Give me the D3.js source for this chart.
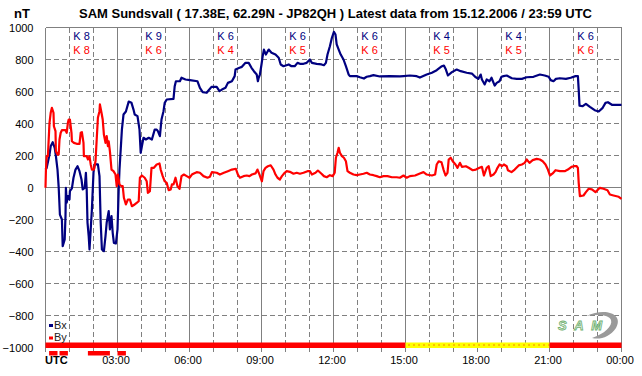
<!DOCTYPE html>
<meta charset="utf-8">
<script src="https://d3js.org/d3.v7.min.js"></script>
<style type="text/css">
body { margin: 0; background: #fff; }
svg { display: block; font-family: Arial, "Liberation Sans", sans-serif; }
.grid line { stroke: #808080; stroke-width: 1; shape-rendering: crispEdges; }
.grid .dash { stroke-dasharray: 5,3; }
.axis text { font-size: 11px; fill: #000; }
.axis path, .axis line { display: none; }
.kx { fill: #000080; font-size: 11px; }
.ky { fill: #ff0000; font-size: 11px; }
.lbl { font-size: 11px; fill: #222; }
</style>
<body>
<div id="chart"></div>
<script>

// Bx [minute of day, nT]
var bx = [[0,112],[3,123],[10,206],[13,258],[18,283],[23,248],[26,196],[30,112],[33,0],[36,-169],[41,-200],[43,-367],[48,-325],[50,-179],[51,-2],[53,-94],[56,-54],[60,-75],[61,-23],[66,-6],[70,61],[75,112],[80,133],[85,102],[90,50],[93,-12],[98,-2],[101,92],[103,-12],[105,-219],[108,-304],[110,-387],[113,-262],[116,-137],[120,94],[123,144],[131,144],[135,71],[138,-219],[141,-387],[146,-398],[150,-304],[153,-219],[158,-148],[161,-262],[165,-179],[168,-283],[171,-346],[176,-350],[180,-262],[183,-12],[185,112],[188,237],[191,362],[195,456],[201,475],[208,537],[215,529],[220,487],[223,456],[230,446],[235,362],[238,217],[241,258],[245,311],[251,300],[258,311],[266,300],[273,362],[278,362],[281,352],[286,321],[290,425],[295,477],[298,529],[303,550],[320,554],[323,633],[326,664],[336,664],[340,686],[350,675],[361,671],[380,664],[386,623],[393,596],[403,592],[408,608],[415,629],[428,629],[435,602],[441,612],[450,623],[456,654],[466,664],[473,696],[475,737],[485,748],[491,754],[500,779],[508,779],[515,748],[521,727],[528,706],[531,664],[533,686],[536,706],[540,769],[543,821],[546,862],[551,831],[558,862],[565,842],[575,831],[583,811],[588,769],[595,758],[608,769],[615,758],[623,758],[630,779],[636,773],[645,773],[653,779],[661,800],[666,779],[678,773],[690,769],[696,764],[701,779],[705,831],[711,883],[716,936],[721,973],[725,956],[728,894],[733,862],[738,831],[745,800],[751,758],[758,706],[761,696],[778,696],[786,689],[796,681],[803,692],[811,696],[820,702],[836,694],[861,696],[886,694],[895,696],[911,700],[928,696],[936,687],[953,706],[966,717],[978,733],[991,758],[996,762],[1001,737],[1006,700],[1016,721],[1028,737],[1038,727],[1053,717],[1066,712],[1074,692],[1082,679],[1088,706],[1091,675],[1098,644],[1103,675],[1110,664],[1115,686],[1123,637],[1128,654],[1135,664],[1140,692],[1145,696],[1153,700],[1166,683],[1178,679],[1191,679],[1203,689],[1220,692],[1236,706],[1248,700],[1258,692],[1263,671],[1270,664],[1276,679],[1286,683],[1301,679],[1313,686],[1325,696],[1331,696],[1333,612],[1335,512],[1343,508],[1351,523],[1361,504],[1373,483],[1383,475],[1393,498],[1400,529],[1406,533],[1416,517],[1440,517]];

// By [minute of day, nT]
var by = [[0,-2],[1,102],[3,196],[6,196],[10,404],[13,467],[16,498],[20,467],[21,383],[25,352],[26,227],[30,206],[33,206],[35,300],[38,342],[41,358],[50,358],[53,342],[56,404],[58,425],[61,425],[65,342],[66,289],[71,279],[78,273],[85,273],[88,342],[91,346],[95,279],[96,196],[103,196],[106,175],[110,196],[113,144],[116,112],[121,112],[125,164],[128,300],[131,436],[135,477],[136,519],[140,467],[143,425],[146,331],[150,279],[153,321],[156,258],[158,289],[161,227],[165,112],[170,102],[175,81],[178,8],[181,81],[185,19],[190,8],[193,8],[196,-64],[201,-106],[206,-75],[211,-75],[216,-117],[223,-106],[228,-96],[233,-86],[236,61],[241,75],[248,61],[253,39],[256,-33],[261,-23],[265,123],[271,123],[278,144],[285,150],[288,112],[293,71],[298,39],[303,29],[308,-17],[313,-12],[316,19],[320,19],[325,61],[330,8],[335,-8],[340,71],[346,81],[353,71],[360,61],[366,81],[371,88],[378,96],[386,92],[395,71],[405,61],[411,67],[416,96],[428,92],[436,81],[446,92],[456,102],[466,112],[476,117],[481,81],[486,61],[495,71],[503,75],[510,71],[516,81],[525,88],[530,112],[535,81],[541,39],[545,102],[550,123],[556,133],[563,139],[570,112],[575,81],[580,61],[586,50],[591,71],[598,92],[603,102],[611,98],[620,86],[628,92],[636,86],[645,92],[655,102],[661,102],[666,81],[675,92],[681,106],[690,86],[696,71],[703,64],[711,77],[718,71],[723,92],[726,186],[730,217],[733,248],[736,217],[741,196],[746,186],[751,164],[755,102],[761,92],[770,81],[778,77],[786,81],[795,86],[803,92],[811,81],[820,77],[828,71],[836,64],[845,71],[855,71],[866,64],[878,64],[886,61],[895,75],[903,61],[911,71],[924,75],[936,88],[945,96],[953,81],[966,75],[974,81],[978,144],[983,164],[990,158],[995,112],[1000,75],[1005,92],[1008,175],[1013,186],[1018,164],[1025,144],[1030,123],[1036,154],[1041,129],[1051,133],[1058,123],[1068,108],[1076,112],[1085,123],[1091,129],[1096,75],[1103,123],[1108,133],[1113,71],[1120,81],[1125,96],[1130,123],[1135,144],[1141,133],[1146,144],[1153,133],[1156,108],[1165,96],[1173,112],[1183,138],[1191,144],[1198,154],[1203,175],[1210,154],[1218,171],[1228,179],[1236,175],[1243,164],[1250,144],[1256,112],[1261,75],[1268,88],[1275,108],[1286,102],[1298,102],[1306,112],[1315,129],[1321,133],[1328,133],[1331,123],[1333,29],[1336,-54],[1345,-50],[1351,-29],[1358,-8],[1366,-12],[1375,-29],[1386,-2],[1395,-8],[1405,-17],[1411,-44],[1420,-50],[1433,-58],[1440,-71]];

// K indices per 3-hour block
var kBx = [8, 9, 6, 6, 6, 4, 4, 6];
var kBy = [8, 6, 4, 5, 6, 5, 5, 6];

var hourLabels = ["03:00","06:00","09:00","12:00","15:00","18:00","21:00","00:00"];
var yTicks = [-1000,-800,-600,-400,-200,0,200,400,600,800,1000];

// status strip: [from, to, state]  (minutes)
var statusSpans = [[0,900,"red"],[900,1260,"yellow"],[1260,1440,"red"]];
// alarm marks below the strip (minutes)
var alarmSpans = [[9,30],[35,56],[106,161],[180,201]];

var width = 642;
var height = 376;

var svg = d3.select("#chart")
	.append("svg")
	.attr("width", width)
	.attr("height", height);

var x = d3.scaleLinear()
	.domain([0, 1440])
	.range([45.5, 621.5]);

var y = d3.scaleLinear()
	.domain([-1000, 1000])
	.range([347.5, 27.5]);

// grid ---------------------------------------------------------------
var grid = svg.append("g").attr("class", "grid");

grid.selectAll("line.h")
	.data(yTicks)
	.enter().append("line")
	.attr("class", function(d) { return (d == 0 || d == 1000) ? "h" : "h dash"; })
	.attr("x1", x(0)).attr("x2", x(1440))
	.attr("y1", function(d) { return y(d); })
	.attr("y2", function(d) { return y(d); });

grid.selectAll("line.v")
	.data(d3.range(0, 25))
	.enter().append("line")
	.attr("class", function(d) { return d % 3 == 0 ? "v" : "v dash"; })
	.attr("x1", function(d) { return x(d * 60); })
	.attr("x2", function(d) { return x(d * 60); })
	.attr("y1", y(1000))
	.attr("y2", 352);

// axes -------------------------------------------------------------
svg.append("g")
	.attr("class", "axis")
	.attr("transform", "translate(" + x(0) + ",0)")
	.call(d3.axisLeft(y).tickValues(yTicks).tickSize(0).tickPadding(12).tickFormat(d3.format("d")));

svg.append("g")
	.attr("class", "axis")
	.attr("transform", "translate(0,348)")
	.call(d3.axisBottom(x)
		.tickValues(d3.range(180, 1441, 180))
		.tickSize(0).tickPadding(8)
		.tickFormat(function(d, i) { return hourLabels[i]; }))
	.selectAll("text").attr("dx", "-2");

svg.append("text")
	.attr("x", 45).attr("y", 364)
	.style("font-size", "11px").style("font-weight", "bold")
	.text("UTC");

svg.append("text")
	.attr("x", 14).attr("y", 18)
	.style("font-size", "13px").style("font-weight", "bold")
	.text("nT");

svg.append("text")
	.attr("x", 79).attr("y", 18)
	.style("font-size", "13px").style("font-weight", "bold")
	.text("SAM Sundsvall ( 17.38E, 62.29N - JP82QH ) Latest data from 15.12.2006 / 23:59 UTC");

// K indices ----------------------------------------------------------
svg.selectAll("text.kx")
	.data(kBx)
	.enter().append("text")
	.attr("class", "kx")
	.attr("text-anchor", "middle")
	.attr("x", function(d, i) { return x(i * 180 + 90); })
	.attr("y", 39.5)
	.text(function(d) { return "K " + d; });

svg.selectAll("text.ky")
	.data(kBy)
	.enter().append("text")
	.attr("class", "ky")
	.attr("text-anchor", "middle")
	.attr("x", function(d, i) { return x(i * 180 + 90); })
	.attr("y", 53.5)
	.text(function(d) { return "K " + d; });

// series ---------------------------------------------------------------
var line = d3.line()
	.x(function(d) { return x(d[0]); })
	.y(function(d) { return y(d[1]); });

svg.append("path")
	.attr("d", line(bx))
	.style("fill", "none")
	.style("stroke", "#000080")
	.style("stroke-width", 2.2)
	.style("stroke-linejoin", "round");

svg.append("path")
	.attr("d", line(by))
	.style("fill", "none")
	.style("stroke", "#ff0000")
	.style("stroke-width", 2.2)
	.style("stroke-linejoin", "round");

// status strip ---------------------------------------------------------
svg.selectAll("rect.status")
	.data(statusSpans)
	.enter().append("rect")
	.attr("class", "status")
	.attr("x", function(d) { return x(d[0]); })
	.attr("width", function(d) { return x(d[1]) - x(d[0]); })
	.attr("y", 342.5).attr("height", 5.5)
	.style("fill", function(d) { return d[2] == "red" ? "#ff0000" : "#ffff00"; });

svg.selectAll("line.dots")
	.data(statusSpans.filter(function(d) { return d[2] == "yellow"; }))
	.enter().append("line")
	.attr("class", "dots")
	.attr("x1", function(d) { return x(d[0]) + 3; })
	.attr("x2", function(d) { return x(d[1]); })
	.attr("y1", 345).attr("y2", 345)
	.style("stroke", "#ff0000")
	.style("stroke-width", 1)
	.style("stroke-dasharray", "1,4");

svg.selectAll("rect.alarm")
	.data(alarmSpans)
	.enter().append("rect")
	.attr("class", "alarm")
	.attr("x", function(d) { return x(d[0]); })
	.attr("width", function(d) { return x(d[1]) - x(d[0]); })
	.attr("y", 351).attr("height", 4.5)
	.style("fill", "#ff0000");

// legend -----------------------------------------------------------------
var legend = [["Bx", "#000080"], ["By", "#ff0000"]];
var lg = svg.selectAll("g.leg")
	.data(legend)
	.enter().append("g")
	.attr("class", "leg")
	.attr("transform", function(d, i) { return "translate(49," + (324 + i * 12.5) + ")"; });
lg.append("rect").attr("width", 4).attr("height", 3).style("fill", function(d) { return d[1]; });
lg.append("text").attr("class", "lbl").attr("x", 5).attr("y", 4.5).text(function(d) { return d[0]; });

// logo ---------------------------------------------------------------------
var logo = svg.append("g").attr("transform", "translate(558,312)");
logo.append("path")
	.attr("d", "M28,4 C48,-5 66,2 58,16 C52,25 42,28 34,26 C46,22 55,14 53,8 C51,3 42,2 28,4 Z")
	.style("fill", "#9a9a9a");
logo.append("text")
	.attr("x", 0).attr("y", 18)
	.style("font-size", "13px").style("font-style", "italic").style("font-weight", "bold")
	.style("fill", "#e8f4e8").style("stroke", "#70b070").style("stroke-width", 0.8)
	.attr("textLength", 44)
	.text("SAM");
</script>
</body>
